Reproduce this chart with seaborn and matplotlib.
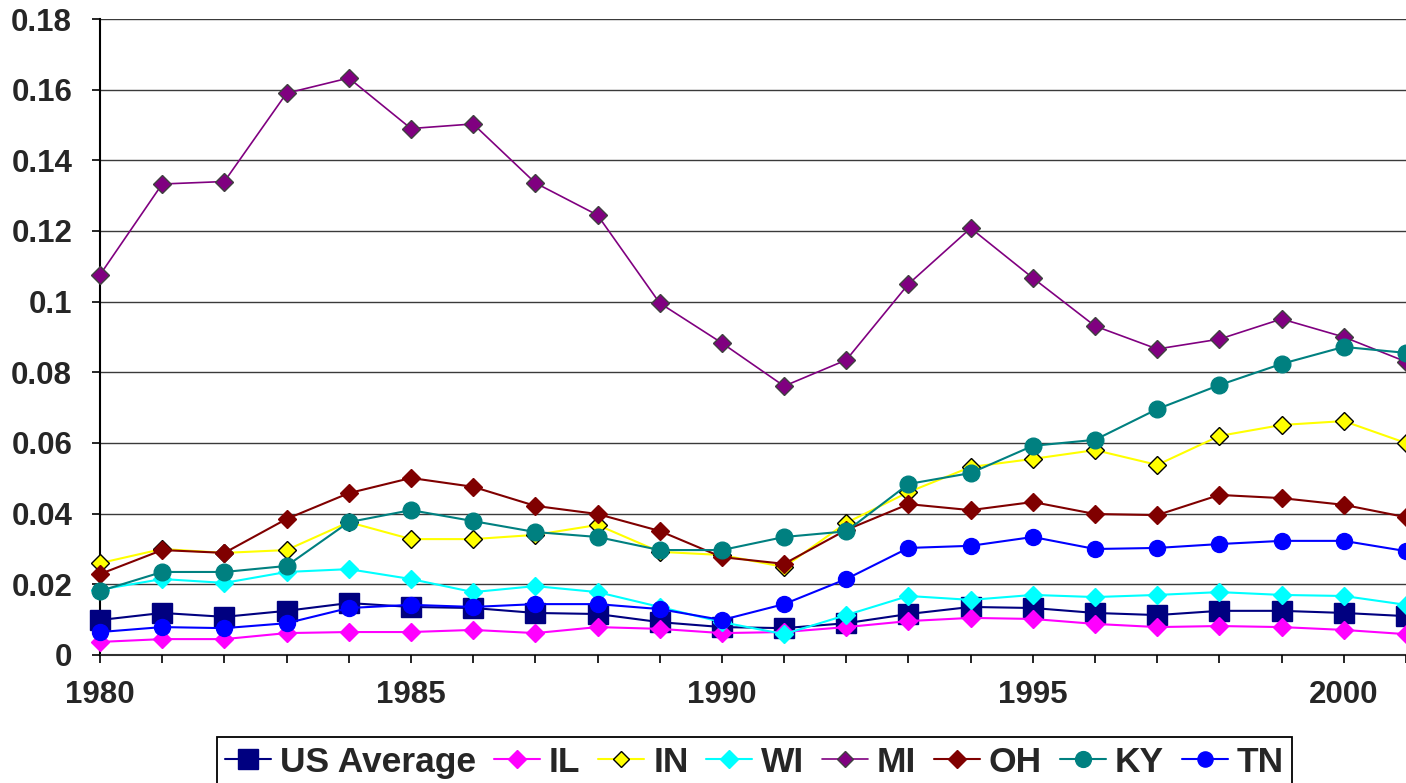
import matplotlib
matplotlib.use("Agg")
import matplotlib.pyplot as plt
import seaborn as sns
import pandas as pd
from matplotlib.lines import Line2D

years = list(range(1980, 2002))

us_avg = [0.0099, 0.0119, 0.0108, 0.0125, 0.0147, 0.0136, 0.0133, 0.0119, 0.0116, 0.0093, 0.0079,
          0.0076, 0.0090, 0.0116, 0.0136, 0.0133, 0.0119, 0.0113, 0.0125, 0.0125, 0.0119, 0.0110]
il = [0.0037, 0.0045, 0.0045, 0.0062, 0.0065, 0.0065, 0.0071, 0.0062, 0.0079, 0.0074, 0.0062,
      0.0065, 0.0079, 0.0096, 0.0105, 0.0102, 0.0088, 0.0079, 0.0082, 0.0079, 0.0071, 0.0059]
ind = [0.0260, 0.0300, 0.0289, 0.0297, 0.0376, 0.0328, 0.0328, 0.0340, 0.0368, 0.0292, 0.0283,
       0.0249, 0.0374, 0.0461, 0.0532, 0.0555, 0.0580, 0.0538, 0.0620, 0.0651, 0.0662, 0.0600]
wi = [0.0185, 0.0215, 0.0204, 0.0235, 0.0243, 0.0215, 0.0178, 0.0195, 0.0178, 0.0136, 0.0093,
      0.0059, 0.0113, 0.0167, 0.0156, 0.0170, 0.0164, 0.0170, 0.0178, 0.0170, 0.0167, 0.0142]
mi = [0.1076, 0.1333, 0.1340, 0.1590, 0.1633, 0.1490, 0.1503, 0.1336, 0.1245, 0.0996, 0.0883,
      0.0761, 0.0835, 0.1050, 0.1208, 0.1067, 0.0931, 0.0866, 0.0894, 0.0951, 0.0900, 0.0830]
oh = [0.0229, 0.0297, 0.0289, 0.0385, 0.0458, 0.0501, 0.0476, 0.0422, 0.0399, 0.0351, 0.0277,
      0.0258, 0.0354, 0.0427, 0.0410, 0.0433, 0.0399, 0.0396, 0.0453, 0.0444, 0.0425, 0.0390]
ky = [0.0181, 0.0235, 0.0235, 0.0252, 0.0376, 0.0410, 0.0379, 0.0348, 0.0334, 0.0297, 0.0297,
      0.0334, 0.0350, 0.0484, 0.0515, 0.0592, 0.0609, 0.0696, 0.0764, 0.0824, 0.0872, 0.0855]
tn = [0.0065, 0.0079, 0.0076, 0.0090, 0.0133, 0.0142, 0.0136, 0.0144, 0.0144, 0.0130, 0.0099,
      0.0144, 0.0215, 0.0303, 0.0309, 0.0334, 0.0300, 0.0303, 0.0314, 0.0323, 0.0323, 0.0294]

series_names = ["US Average", "IL", "IN", "WI", "MI", "OH", "KY", "TN"]
series_values = [us_avg, il, ind, wi, mi, oh, ky, tn]

y_ticks = [0, 0.02, 0.04, 0.06, 0.08, 0.1, 0.12, 0.14, 0.16, 0.18]
y_tick_labels = ["0", "0.02", "0.04", "0.06", "0.08", "0.1", "0.12", "0.14", "0.16", "0.18"]
x_label_years = [1980, 1985, 1990, 1995, 2000]

styles = {
    "US Average": dict(color="#000080", marker="s", ms=14.5, mec="#000080", lw=1.5),
    "IL": dict(color="#FF00FF", marker="D", ms=9.5, mec="#FF00FF", lw=1.5),
    "IN": dict(color="#FFFF00", marker="D", ms=9.0, mec="#000000", lw=1.5),
    "WI": dict(color="#00FFFF", marker="D", ms=9.5, mec="#00FFFF", lw=1.5),
    "MI": dict(color="#800080", marker="D", ms=9.0, mec="#404040", lw=1.2),
    "OH": dict(color="#800000", marker="D", ms=9.5, mec="#800000", lw=1.5),
    "KY": dict(color="#008080", marker="o", ms=12, mec="#008080", lw=1.5),
    "TN": dict(color="#0000FF", marker="o", ms=11.5, mec="#0000FF", lw=1.5),
}

sns.set_style("white")
plt.rcParams["font.family"] = ["Liberation Sans", "DejaVu Sans"]
plt.rcParams["font.weight"] = "bold"

fig = plt.figure(figsize=(14.06, 7.83), dpi=100)
ax = fig.add_axes([100 / 1406, 128 / 783, 1 - 100 / 1406, (655 - 19) / 783])

for name, vals in zip(series_names, series_values):
    st = styles[name]
    df = pd.DataFrame({"year": years, "value": vals})
    sns.lineplot(data=df, x="year", y="value", ax=ax, color=st["color"], marker=st["marker"],
                 markersize=st["ms"], markeredgecolor=st["mec"], markeredgewidth=1.0,
                 markerfacecolor=st["color"], linewidth=st["lw"], clip_on=False, legend=False)

ax.set_xlim(1980, 2001)
ax.set_ylim(0, 0.18)
ax.set_yticks(y_ticks)
ax.set_yticklabels(y_tick_labels)
ax.set_xticks(years)
ax.set_xticklabels([str(y) if y in x_label_years else "" for y in years])
ax.set_xlabel("")
ax.set_ylabel("")

for y in y_ticks[1:]:
    ax.axhline(y, color="#3a3a3a", lw=1.0, zorder=0)

for s in ["top", "right"]:
    ax.spines[s].set_visible(False)
ax.spines["left"].set_color("#000000")
ax.spines["bottom"].set_color("#303030")
ax.spines["left"].set_linewidth(1.5)
ax.spines["bottom"].set_linewidth(1.5)
ax.spines["left"].set_zorder(0.5)
ax.spines["bottom"].set_zorder(0.5)

ax.tick_params(axis="both", which="major", direction="out", length=6, width=1.2,
               color="#000000", labelsize=22.5, bottom=True, left=True)
ax.tick_params(axis="y", pad=14)
ax.tick_params(axis="x", pad=12)
for lab in ax.get_xticklabels() + ax.get_yticklabels():
    lab.set_fontweight("bold")

handles = []
for name in series_names:
    st = styles[name]
    handles.append(Line2D([0], [0], color=st["color"], marker=st["marker"],
                          markersize=st["ms"] * 0.95, markeredgecolor=st["mec"],
                          markerfacecolor=st["color"], lw=st["lw"]))

leg = fig.legend(handles, series_names, loc="upper center", ncol=8,
                 bbox_to_anchor=((209 + 1300) / 2 / 1406, (783 - 737) / 783),
                 frameon=True, fancybox=False, edgecolor="#000000", framealpha=1,
                 prop={"size": 25.5, "weight": "bold"}, handlelength=1.3, handletextpad=0.25,
                 columnspacing=0.5, borderpad=0.25, borderaxespad=0)
leg.get_frame().set_linewidth(1.3)

fig.savefig("out.png", dpi=100)
